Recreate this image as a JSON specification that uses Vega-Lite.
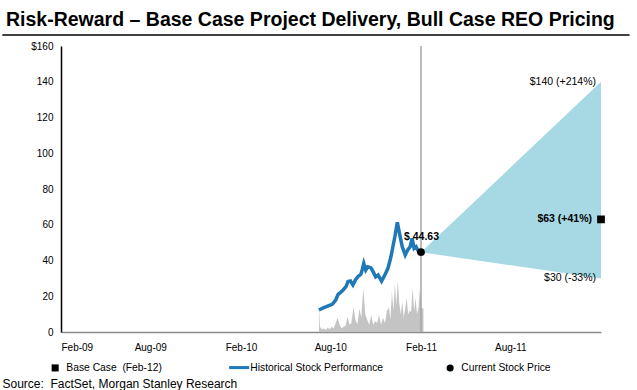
{
  "$schema": "https://vega.github.io/schema/vega-lite/v6.json",
  "width": 540,
  "height": 286,
  "autosize": {"type": "none"},
  "padding": {"left": 61, "top": 46, "right": 36, "bottom": 58},
  "background": "white",
  "config": {
    "view": {"stroke": null},
    "font": "Liberation Sans",
    "axis": {"labelFont": "Liberation Sans", "labelColor": "#000000", "labelFontSize": 10, "ticks": false, "grid": false, "labelOverlap": false}
  },
  "title": {
    "text": "Risk-Reward – Base Case Project Delivery, Bull Case REO Pricing",
    "anchor": "start",
    "frame": "group",
    "dx": -55,
    "offset": 4,
    "font": "Liberation Sans",
    "fontSize": 19.5,
    "fontWeight": "bold",
    "color": "#000000"
  },
  "datasets": {
    "cone": [
      {"date": "2011-02-01", "low": 44.63, "high": 44.63},
      {"date": "2012-02-01", "low": 30, "high": 140}
    ],
    "price": [
      {"date": "2010-07-09", "price": 12.3, "series": "Historical Stock Performance"},
      {"date": "2010-07-19", "price": 13.6, "series": "Historical Stock Performance"},
      {"date": "2010-07-29", "price": 14.7, "series": "Historical Stock Performance"},
      {"date": "2010-08-05", "price": 15.5, "series": "Historical Stock Performance"},
      {"date": "2010-08-12", "price": 17.9, "series": "Historical Stock Performance"},
      {"date": "2010-08-17", "price": 21.1, "series": "Historical Stock Performance"},
      {"date": "2010-08-22", "price": 22.2, "series": "Historical Stock Performance"},
      {"date": "2010-08-27", "price": 23.5, "series": "Historical Stock Performance"},
      {"date": "2010-09-02", "price": 25.4, "series": "Historical Stock Performance"},
      {"date": "2010-09-06", "price": 28.2, "series": "Historical Stock Performance"},
      {"date": "2010-09-11", "price": 28.5, "series": "Historical Stock Performance"},
      {"date": "2010-09-16", "price": 26.3, "series": "Historical Stock Performance"},
      {"date": "2010-09-21", "price": 29.1, "series": "Historical Stock Performance"},
      {"date": "2010-09-26", "price": 30.9, "series": "Historical Stock Performance"},
      {"date": "2010-10-02", "price": 32.3, "series": "Historical Stock Performance"},
      {"date": "2010-10-05", "price": 35.0, "series": "Historical Stock Performance"},
      {"date": "2010-10-08", "price": 38.4, "series": "Historical Stock Performance"},
      {"date": "2010-10-12", "price": 34.7, "series": "Historical Stock Performance"},
      {"date": "2010-10-16", "price": 36.5, "series": "Historical Stock Performance"},
      {"date": "2010-10-22", "price": 36.0, "series": "Historical Stock Performance"},
      {"date": "2010-10-25", "price": 34.7, "series": "Historical Stock Performance"},
      {"date": "2010-11-01", "price": 30.9, "series": "Historical Stock Performance"},
      {"date": "2010-11-06", "price": 31.9, "series": "Historical Stock Performance"},
      {"date": "2010-11-13", "price": 28.5, "series": "Historical Stock Performance"},
      {"date": "2010-11-19", "price": 31.5, "series": "Historical Stock Performance"},
      {"date": "2010-11-26", "price": 35.6, "series": "Historical Stock Performance"},
      {"date": "2010-12-02", "price": 42.1, "series": "Historical Stock Performance"},
      {"date": "2010-12-06", "price": 47.7, "series": "Historical Stock Performance"},
      {"date": "2010-12-10", "price": 53.3, "series": "Historical Stock Performance"},
      {"date": "2010-12-15", "price": 61.4, "series": "Historical Stock Performance"},
      {"date": "2010-12-20", "price": 54.3, "series": "Historical Stock Performance"},
      {"date": "2010-12-25", "price": 47.7, "series": "Historical Stock Performance"},
      {"date": "2010-12-31", "price": 43.1, "series": "Historical Stock Performance"},
      {"date": "2011-01-05", "price": 45.9, "series": "Historical Stock Performance"},
      {"date": "2011-01-10", "price": 47.7, "series": "Historical Stock Performance"},
      {"date": "2011-01-14", "price": 52.4, "series": "Historical Stock Performance"},
      {"date": "2011-01-18", "price": 46.8, "series": "Historical Stock Performance"},
      {"date": "2011-01-22", "price": 47.7, "series": "Historical Stock Performance"},
      {"date": "2011-01-27", "price": 44.9, "series": "Historical Stock Performance"},
      {"date": "2011-02-01", "price": 44.63, "series": "Historical Stock Performance"}
    ],
    "volume": [
      {"date": "2010-07-09", "volume": 16},
      {"date": "2010-07-11", "volume": 3},
      {"date": "2010-07-15", "volume": 1.5},
      {"date": "2010-07-19", "volume": 2},
      {"date": "2010-07-23", "volume": 1},
      {"date": "2010-07-27", "volume": 2.5},
      {"date": "2010-07-31", "volume": 1.5},
      {"date": "2010-08-04", "volume": 3},
      {"date": "2010-08-08", "volume": 2},
      {"date": "2010-08-12", "volume": 5},
      {"date": "2010-08-16", "volume": 8},
      {"date": "2010-08-20", "volume": 4},
      {"date": "2010-08-24", "volume": 2},
      {"date": "2010-08-28", "volume": 3},
      {"date": "2010-09-01", "volume": 3.5},
      {"date": "2010-09-05", "volume": 8.5},
      {"date": "2010-09-09", "volume": 4},
      {"date": "2010-09-13", "volume": 5},
      {"date": "2010-09-17", "volume": 14},
      {"date": "2010-09-21", "volume": 7},
      {"date": "2010-09-25", "volume": 4},
      {"date": "2010-09-29", "volume": 13},
      {"date": "2010-10-03", "volume": 8},
      {"date": "2010-10-07", "volume": 24.6},
      {"date": "2010-10-11", "volume": 10},
      {"date": "2010-10-15", "volume": 6.7},
      {"date": "2010-10-19", "volume": 4},
      {"date": "2010-10-23", "volume": 9.5},
      {"date": "2010-10-27", "volume": 4},
      {"date": "2010-10-31", "volume": 6},
      {"date": "2010-11-04", "volume": 5},
      {"date": "2010-11-08", "volume": 9.5},
      {"date": "2010-11-12", "volume": 4},
      {"date": "2010-11-16", "volume": 8},
      {"date": "2010-11-20", "volume": 5},
      {"date": "2010-11-24", "volume": 12},
      {"date": "2010-11-28", "volume": 13.5},
      {"date": "2010-12-01", "volume": 7},
      {"date": "2010-12-04", "volume": 22.5},
      {"date": "2010-12-07", "volume": 12},
      {"date": "2010-12-10", "volume": 27},
      {"date": "2010-12-13", "volume": 15},
      {"date": "2010-12-16", "volume": 29},
      {"date": "2010-12-19", "volume": 16},
      {"date": "2010-12-22", "volume": 10},
      {"date": "2010-12-25", "volume": 17},
      {"date": "2010-12-28", "volume": 8},
      {"date": "2010-12-31", "volume": 13.5},
      {"date": "2011-01-03", "volume": 19},
      {"date": "2011-01-06", "volume": 10},
      {"date": "2011-01-09", "volume": 12},
      {"date": "2011-01-12", "volume": 11},
      {"date": "2011-01-15", "volume": 24.6},
      {"date": "2011-01-18", "volume": 12},
      {"date": "2011-01-21", "volume": 19},
      {"date": "2011-01-24", "volume": 10},
      {"date": "2011-01-27", "volume": 14},
      {"date": "2011-01-30", "volume": 25},
      {"date": "2011-02-02", "volume": 13.5},
      {"date": "2011-02-06", "volume": 13}
    ],
    "points": [
      {"date": "2012-02-01", "price": 63, "series": "Base Case \u00a0(Feb-12)"},
      {"date": "2011-02-01", "price": 44.63, "series": "Current Stock Price"}
    ],
    "labelsRegular": [
      {"date": "2012-02-01", "price": 140, "label": "$140 (+214%)"},
      {"date": "2012-02-01", "price": 30, "label": "$30 (-33%)"}
    ],
    "labelBase": [
      {"date": "2012-02-01", "price": 63, "label": "$63 (+41%)"}
    ],
    "labelCurrent": [
      {"date": "2011-02-01", "price": 44.63, "label": "$ 44.63"}
    ],
    "today": [
      {"date": "2011-02-01", "price": 0, "high": 160}
    ],
    "underline": [
      {"date": "2008-10-05", "date2": "2012-03-30", "price": 166.2}
    ]
  },
  "encoding": {
    "x": {
      "field": "date",
      "type": "temporal",
      "scale": {
        "type": "utc",
        "domain": [
          {"year": 2009, "month": 2, "date": 1, "utc": true},
          {"year": 2012, "month": 2, "date": 1, "utc": true}
        ],
        "nice": false
      },
      "axis": {
        "title": "Source: \u00a0FactSet, Morgan Stanley Research",
        "titleAnchor": "start",
        "titleAlign": "left",
        "titleX": -59,
        "titleY": 55,
        "titleBaseline": "alphabetic",
        "titleFont": "Liberation Sans",
        "titleFontSize": 12,
        "titleFontWeight": "normal",
        "titleColor": "#000000",
        "values": [
          {"year": 2009, "month": 2, "date": 1, "utc": true},
          {"year": 2009, "month": 8, "date": 1, "utc": true},
          {"year": 2010, "month": 2, "date": 1, "utc": true},
          {"year": 2010, "month": 8, "date": 1, "utc": true},
          {"year": 2011, "month": 2, "date": 1, "utc": true},
          {"year": 2011, "month": 8, "date": 1, "utc": true}
        ],
        "labelExpr": "utcFormat(datum.value, '%b-%y')",
        "labelPadding": 10,
        "labelFontSize": 10,
        "domainColor": "#8c8c8c",
        "domainWidth": 1.5
      }
    },
    "y": {
      "field": "price",
      "type": "quantitative",
      "scale": {"domain": [0, 160], "nice": false, "zero": true},
      "axis": {
        "title": null,
        "values": [0, 20, 40, 60, 80, 100, 120, 140, 160],
        "labelExpr": "datum.value == 160 ? '$160' : datum.label",
        "labelPadding": 8,
        "labelOverlap": false,
        "domainColor": "#000000",
        "domainWidth": 1.5
      }
    }
  },
  "layer": [
    {
      "data": {"name": "cone"},
      "mark": {"type": "area", "color": "#a6d9e3"},
      "encoding": {
        "y": {"field": "low", "type": "quantitative"},
        "y2": {"field": "high"}
      }
    },
    {
      "data": {"name": "volume"},
      "mark": {"type": "area", "color": "#c4c4c4"},
      "encoding": {
        "y": {"field": "volume", "type": "quantitative"}
      }
    },
    {
      "data": {"name": "today"},
      "mark": {"type": "rule", "color": "#a6a6a6", "strokeWidth": 1.5},
      "encoding": {
        "y2": {"field": "high"}
      }
    },
    {
      "data": {"name": "price"},
      "mark": {"type": "line", "strokeWidth": 3.5},
      "encoding": {
        "color": {
          "field": "series",
          "type": "nominal",
          "scale": {
            "domain": ["Base Case \u00a0(Feb-12)", "Historical Stock Performance", "Current Stock Price"],
            "range": ["#000000", "#1f78b8", "#000000"]
          },
          "legend": {
            "title": null,
            "orient": "none",
            "direction": "horizontal",
            "columns": 3,
            "legendX": -11,
            "legendY": 316,
            "columnPadding": 61,
            "symbolSize": 400,
            "symbolStrokeWidth": 3,
            "labelOffset": 6,
            "labelFont": "Liberation Sans",
            "labelFontSize": 10.3,
            "labelColor": "#000000",
            "encode": {
              "symbols": {
                "update": {
                  "fill": {"scale": "color", "field": "value"},
                  "stroke": {"scale": "color", "field": "value"},
                  "strokeWidth": {"signal": "datum.value === 'Historical Stock Performance' ? 3 : 0"},
                  "size": {"signal": "datum.value === 'Historical Stock Performance' ? 400 : 50"},
                  "opacity": {"value": 1}
                }
              }
            }
          }
        },
        "shape": {
          "field": "series",
          "type": "nominal",
          "scale": {
            "domain": ["Base Case \u00a0(Feb-12)", "Historical Stock Performance", "Current Stock Price"],
            "range": ["square", "stroke", "circle"]
          }
        }
      }
    },
    {
      "data": {"name": "points"},
      "mark": {"type": "point", "filled": true, "size": 60, "opacity": 1},
      "encoding": {
        "color": {"field": "series", "type": "nominal"},
        "shape": {"field": "series", "type": "nominal"}
      }
    },
    {
      "data": {"name": "labelsRegular"},
      "mark": {"type": "text", "align": "right", "baseline": "middle", "dx": -5, "fontSize": 10.5, "font": "Liberation Sans", "color": "#000000"},
      "encoding": {"text": {"field": "label"}}
    },
    {
      "data": {"name": "labelBase"},
      "mark": {"type": "text", "align": "right", "baseline": "middle", "dx": -9, "fontSize": 10.5, "fontWeight": "bold", "font": "Liberation Sans", "color": "#000000"},
      "encoding": {"text": {"field": "label"}}
    },
    {
      "data": {"name": "labelCurrent"},
      "mark": {"type": "text", "align": "left", "baseline": "middle", "dx": -17, "dy": -15, "fontSize": 10.5, "fontWeight": "bold", "font": "Liberation Sans", "color": "#000000"},
      "encoding": {"text": {"field": "label"}}
    },
    {
      "data": {"name": "underline"},
      "mark": {"type": "rule", "color": "#000000", "strokeWidth": 1.5},
      "encoding": {
        "x2": {"field": "date2"}
      }
    }
  ]
}
